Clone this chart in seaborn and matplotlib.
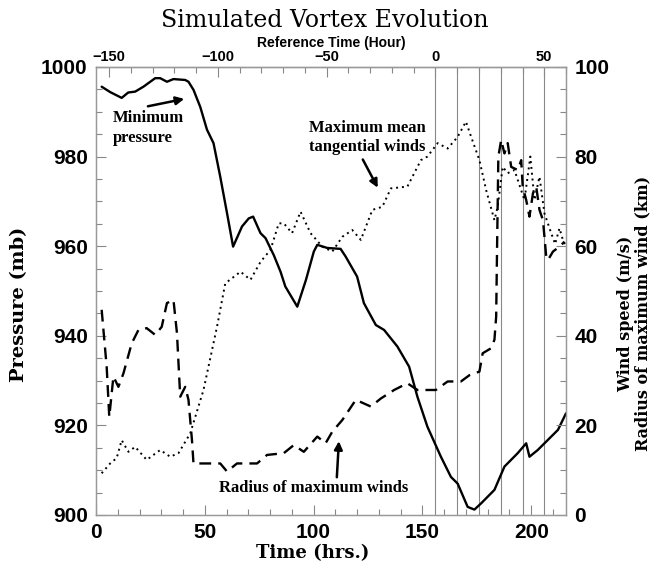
import matplotlib
matplotlib.use("Agg")
import matplotlib.pyplot as plt
import seaborn as sns
import pandas as pd
from matplotlib.ticker import MultipleLocator

# ---------------- data ----------------
time_p = [2.6, 6.5, 11.8, 14.8, 18, 21.8, 27.2, 29.5, 32.6, 35.6, 41, 42.5, 44.8, 47.9, 51, 54, 57.1,
          60.2, 63, 67.1, 70.2, 72.2, 75.6, 77.9, 81.7, 84.8, 87, 92.5, 96.5, 100.1, 101.7, 106.3, 112.4,
          114.7, 120, 123.1, 128.6, 132.4, 138.5, 143.9, 147.7, 152.3, 158.5, 163.1, 166.2, 170.8, 173.9,
          177, 183.1, 187.7, 193.8, 197.7, 199.2, 203, 209.2, 212.3, 216]
pressure = [995.6, 994.4, 993.1, 994.3, 994.5, 995.6, 997.5, 997.5, 996.7, 997.3, 997.1, 996.7, 994.9,
            991.1, 986, 983, 975.5, 967.4, 959.9, 964.4, 966.2, 966.6, 962.9, 961.8, 958, 954.3, 951,
            946.5, 952.5, 958.8, 960.3, 959.6, 959.4, 957.7, 953.2, 947.3, 942.4, 941.3, 937.6, 933.1,
            926.4, 919.7, 913, 908.5, 907, 901.8, 901.2, 902.6, 905.6, 910.8, 913.8, 916, 913, 914.5,
            917.5, 919, 922.7]

time_w = [2.6, 6.5, 9.5, 11.8, 14.9, 18, 23.3, 29.5, 34.1, 37.9, 43.3, 49.4, 55.6, 59.4, 66.4, 71, 75.6,
          80.2, 84, 86.3, 90.1, 94, 98.6, 104, 108.6, 113.2, 117.8, 121.7, 127, 131.6, 135.5, 143.1,
          149.3, 152.3, 157, 161.6, 166.2, 170, 172.4, 176.2, 179.3, 183.1, 184.6, 186.9, 189.2, 192.3,
          196.9, 199.6, 201.5, 203.8, 206.1, 209.2, 211, 213, 214.5, 216]
wind = [9.3, 11.5, 12.7, 16.7, 14.1, 15.2, 12.3, 14.5, 13, 13.8, 18.2, 27.9, 42, 51.7, 54.3, 52.5, 56.5,
        59.2, 65.1, 65.1, 62.9, 67.7, 62.9, 59.9, 58.8, 62.1, 63.6, 61.4, 68.1, 68.8, 72.9, 73.3, 79.2,
        80, 83, 81.8, 84.4, 87.8, 84.4, 79.2, 72.5, 65.8, 68.8, 77.7, 76.3, 77, 70.3, 80, 70.3, 75.5,
        67.3, 62.9, 60.5, 64, 61.5, 59.9]

time_r = [2.6, 4.9, 6.1, 8, 10.3, 12.6, 16.4, 19.5, 23.3, 27.2, 30.2, 32.6, 35.6, 37.2, 38.7, 41, 42.5,
          44.1, 44.8, 51, 57.1, 60.2, 64.8, 74, 78.6, 86.3, 90.9, 95.5, 101.7, 105.5, 108.6, 113.2, 119.4,
          126.3, 130.9, 137, 143.1, 147.7, 156.2, 161.6, 167.7, 171.6, 176.2, 177.7, 181.5, 183.1, 183.9,
          184.3, 184.9, 186.2, 187.7, 189.2, 190.8, 193.8, 195.4, 196.1, 197.7, 199.2, 200.8, 202.3,
          203.8, 205.4, 206.9, 207.7, 210, 213, 215.3]
rmw = [45.8, 33.1, 21.9, 30.9, 28.6, 31.6, 38.3, 41.3, 41.7, 40.2, 42, 47.3, 48, 40.6, 26.4, 28.6, 25.7,
       16.7, 11.5, 11.5, 11.5, 9.7, 11.5, 11.5, 13.4, 13.8, 15.6, 14.1, 17.5, 16, 18.6, 21.2, 25.7, 24.2,
       26, 27.9, 29.4, 27.9, 27.9, 29.8, 29.8, 31.2, 32, 36.1, 37.2, 39.1, 44.3, 59.2, 80, 83.7, 80.7,
       83, 77.7, 77, 79.2, 73.3, 70.3, 66.6, 71.8, 73.3, 68.1, 65.8, 57.7, 56.9, 58.8, 59.9, 61]

event_times = [156, 166, 176, 186, 196, 206]
reference_offset = 156
top_ticks = [-150, -100, -50, 0, 50]
top_labels = ["\u2212150", "\u2212100", "\u221250", "0", "50"]

df_p = pd.DataFrame({"t": time_p, "v": pressure})
df_w = pd.DataFrame({"t": time_w, "v": wind})
df_r = pd.DataFrame({"t": time_r, "v": rmw})

# ---------------- style ----------------
sns.set_theme(style="ticks")
plt.rcParams["font.family"] = ["Liberation Sans", "DejaVu Sans"]
plt.rcParams["axes.edgecolor"] = "#999999"
plt.rcParams["axes.linewidth"] = 0.9
plt.rcParams["text.color"] = "black"
plt.rcParams["axes.labelcolor"] = "black"

fig = plt.figure(figsize=(6.5, 5.72), dpi=100)
ax = fig.add_axes([0.1477, 0.0997, 0.7231, 0.7832])
ax2 = ax.twinx()

for xv in event_times:
    ax.axvline(xv, color="#888888", lw=0.8, zorder=0)

sns.lineplot(data=df_p, x="t", y="v", ax=ax, color="black", lw=1.7)
sns.lineplot(data=df_w, x="t", y="v", ax=ax2, color="black", lw=1.4, linestyle=(0, (1, 2)))
sns.lineplot(data=df_r, x="t", y="v", ax=ax2, color="black", lw=1.7, linestyle=(0, (5, 3)))

ax.set_xlim(0, 216)
ax.set_ylim(900, 1000)
ax2.set_ylim(0, 100)

ax.xaxis.set_major_locator(MultipleLocator(50))
ax.xaxis.set_minor_locator(MultipleLocator(10))
ax.yaxis.set_major_locator(MultipleLocator(20))
ax.yaxis.set_minor_locator(MultipleLocator(5))
ax2.yaxis.set_major_locator(MultipleLocator(20))
ax2.yaxis.set_minor_locator(MultipleLocator(5))

for a in (ax, ax2):
    a.tick_params(which="major", direction="in", length=7, width=0.8, color="#888888",
                  labelsize=15, pad=6, labelcolor="black")
    a.tick_params(which="minor", direction="in", length=4, width=0.8, color="#888888")
for lab in ax.get_xticklabels() + ax.get_yticklabels() + ax2.get_yticklabels():
    lab.set_fontweight("bold")

top = ax.secondary_xaxis("top", functions=(lambda t: t - reference_offset,
                                           lambda r: r + reference_offset))
top.set_xticks(top_ticks)
top.set_xticklabels(top_labels, fontweight="bold")
top.xaxis.set_minor_locator(MultipleLocator(10))
top.tick_params(which="major", direction="in", length=7, width=0.8, color="#888888",
                labelsize=10.5, pad=2, labelcolor="black")
top.tick_params(which="minor", direction="in", length=4, width=0.8, color="#888888")
top.set_xlabel("Reference Time (Hour)", fontsize=10, fontweight="bold", labelpad=2)

serif = ["DejaVu Serif"]
ax.set_xlabel("Time (hrs.)", fontsize=13, fontweight="bold", family=serif, va="center")
ax.xaxis.set_label_coords(0.46, -0.085)
ax.set_ylabel("Pressure (mb)", fontsize=14, fontweight="bold", family=serif)
ax.yaxis.set_label_coords(-0.145, 0.47)
ax2.set_ylabel("Wind speed (m/s)\nRadius of maximum wind (km)", fontsize=11.5, fontweight="bold",
               family=serif, linespacing=1.0, rotation=90, va="center")
ax2.yaxis.set_label_coords(1.145, 0.45)
fig.text(0.50, 0.965, "Simulated Vortex Evolution", ha="center", va="center",
         fontsize=17, family=serif)

tfont = dict(fontsize=12, fontweight="bold", family=["Liberation Serif"])
ax.text(7.8, 988.6, "Minimum", ha="left", va="center", **tfont)
ax.text(7.8, 984.2, "pressure", ha="left", va="center", **tfont)
ax.annotate("", xy=(41.8, 993), xytext=(22.6, 991.1),
            arrowprops=dict(arrowstyle="-|>", color="black", lw=1.8, mutation_scale=12))

ax2.text(124.6, 86.4, "Maximum mean", ha="center", va="center", **tfont)
ax2.text(124.6, 82.1, "tangential winds", ha="center", va="center", **tfont)
ax2.annotate("", xy=(130.1, 72.5), xytext=(122, 79.9),
             arrowprops=dict(arrowstyle="-|>", color="black", lw=1.8, mutation_scale=12))

ax2.text(99.8, 6.0, "Radius of maximum winds", ha="center", va="center", **tfont)
ax2.annotate("", xy=(111.7, 17.1), xytext=(110.6, 7.8),
             arrowprops=dict(arrowstyle="-|>", color="black", lw=1.8, mutation_scale=12))

fig.savefig("out.png", dpi=100)
